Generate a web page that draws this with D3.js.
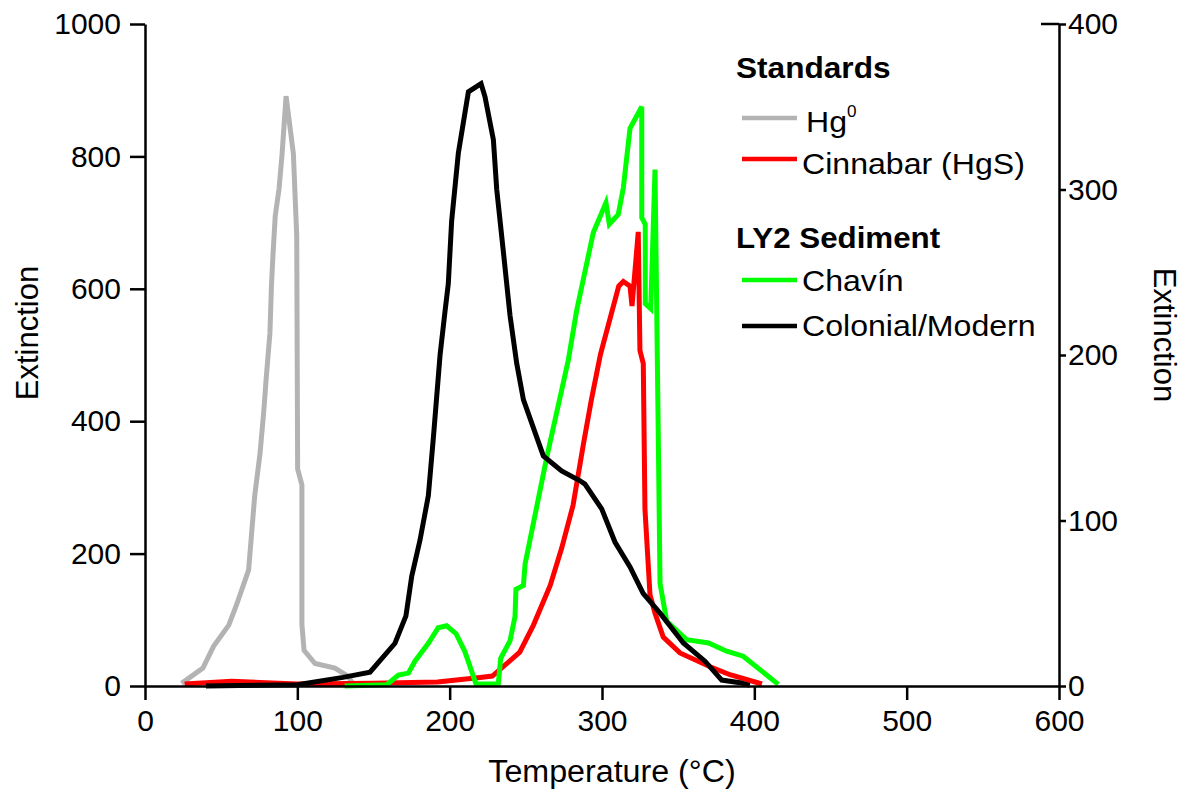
<!DOCTYPE html>
<html>
<head>
<meta charset="utf-8">
<script src="https://cdn.jsdelivr.net/npm/d3@7"></script>
<style>
  body { margin: 0; background: #fff; }
  svg text { font-family: "Liberation Sans", Arial, sans-serif; }
</style>
</head>
<body>
<div id="chart"></div>
<script>
// Standards (left axis)
const hgTemp = [24, 38, 45, 55, 60, 68, 72, 75.5, 78, 79.5, 82, 83, 84, 85.5, 88, 90, 92.6, 97.4, 99.6, 100.2, 103, 103, 104.4, 111.6, 124.7, 132.4, 136]
const hgExt = [4, 27, 60, 92, 122, 175, 287, 351, 416, 463, 533, 604, 651, 710, 751, 804, 891, 804, 680, 328, 304, 93, 54, 34, 27, 16, 6]

const cinTemp = [26, 57, 100, 150, 192, 220, 228, 246, 255, 266, 273.5, 281, 288, 293, 299, 311, 314, 318.4, 319.7, 323.8, 324.9, 327.1, 328.2, 331.5, 334.8, 340.2, 351.2, 371, 384, 405]
const cinExt = [3, 7, 3, 4, 6, 13, 15, 51, 92, 152, 208, 273, 368, 432, 501, 604, 611, 604, 574, 686, 507, 487, 267, 138, 110, 74, 50, 29, 17, 3]

// LY2 sediment (right axis)
const chavinTemp = [131, 158.7, 166.3, 172.9, 177.2, 186, 192.5, 198, 204.2, 210, 217.3, 231.9, 233.5, 239.6, 242.9, 243.5, 248.4, 249.5, 263.7, 277.9, 283.4, 294.3, 302.6, 304.8, 310.7, 314, 318.4, 326.1, 326.1, 328.4, 328.4, 332, 334.8, 337, 338.1, 342.5, 355.5, 370, 381.8, 392.7, 415.7]
const chavinExt = [0, 0.8, 6.6, 7.8, 15, 25.8, 35.2, 36.4, 31.6, 20.8, 1.2, 1.2, 16.8, 27.2, 42, 58.4, 60.8, 73.6, 138, 197, 227, 274, 292, 279, 285, 301, 337, 350, 283, 279, 231, 228, 312, 147, 62, 39, 28, 26, 21, 18, 1]

const colTemp = [40, 100, 130, 147.7, 164.1, 171.3, 175.1, 180.5, 186, 189.3, 193.7, 196.9, 199.1, 201.3, 205.7, 212.3, 220.6, 223.2, 228.7, 230.9, 235.3, 239.6, 244, 248.4, 261.5, 273.5, 285.6, 288.8, 299.8, 308.5, 318.4, 327, 338.1, 353.4, 367.6, 378.6, 390.6, 397]
const colExt = [0, 0.8, 5.2, 8.4, 25.8, 42.4, 66.4, 88, 115, 150, 200, 226, 243, 281, 322, 359, 364, 356, 330, 300, 262, 224, 195, 173, 139, 130, 124, 122, 107, 87, 72, 56, 44, 26, 15, 3.6, 2, 0.4]

const xTicks = [0, 100, 200, 300, 400, 500, 600]
const yLeftTicks = [0, 200, 400, 600, 800, 1000]
const yRightTicks = [0, 100, 200, 300, 400]

const width = 1189
const height = 792
const margin = { top: 24, right: 130, bottom: 106, left: 145 }

const xScale = d3.scaleLinear().domain([0, 600]).range([margin.left, width - margin.right])
const yLeft = d3.scaleLinear().domain([0, 1000]).range([height - margin.bottom, margin.top])
const yRight = d3.scaleLinear().domain([0, 400]).range([height - margin.bottom, margin.top])

const svg = d3.select('#chart')
  .append('svg')
  .attr('width', width)
  .attr('height', height)

const series = [
  { name: 'Hg', temp: hgTemp, ext: hgExt, y: yLeft, color: '#b3b3b3' },
  { name: 'Cinnabar (HgS)', temp: cinTemp, ext: cinExt, y: yLeft, color: '#ff0000' },
  { name: 'Chavín', temp: chavinTemp, ext: chavinExt, y: yRight, color: '#00ff00' },
  { name: 'Colonial/Modern', temp: colTemp, ext: colExt, y: yRight, color: '#000000' },
]

series.forEach(s => {
  const line = d3.line()
    .x(i => xScale(s.temp[i]))
    .y(i => s.y(s.ext[i]))
  svg.append('path')
    .attr('d', line(d3.range(s.temp.length)))
    .attr('fill', 'none')
    .attr('stroke', s.color)
    .attr('stroke-width', 5)
    .attr('stroke-linejoin', 'miter')
})

// axes
const fmt = d3.format('d')
const styleAxis = g => {
  g.selectAll('.domain').attr('stroke-width', 2.5)
  g.selectAll('.tick line').attr('stroke-width', 2.5)
  g.selectAll('.tick text').attr('font-size', '30px').attr('fill', '#000')
    .attr('font-family', '"Liberation Sans", Arial, sans-serif')
}

svg.append('g')
  .attr('transform', `translate(0 ${height - margin.bottom})`)
  .call(d3.axisBottom(xScale).tickValues(xTicks).tickFormat(fmt).tickSize(14).tickSizeOuter(0).tickPadding(10))
  .call(styleAxis)

svg.append('g')
  .attr('transform', `translate(${margin.left} 0)`)
  .call(d3.axisLeft(yLeft).tickValues(yLeftTicks).tickFormat(fmt).tickSize(15).tickSizeOuter(0).tickPadding(9))
  .call(styleAxis)

svg.append('g')
  .attr('transform', `translate(${width - margin.right} 0)`)
  .call(d3.axisRight(yRight).tickValues(yRightTicks).tickFormat(fmt).tickSize(7).tickSizeOuter(0).tickPadding(2))
  .call(styleAxis)

// short inner tick at top of right axis
svg.append('line')
  .attr('x1', xScale(600) - 18).attr('x2', xScale(600))
  .attr('y1', yRight(400)).attr('y2', yRight(400))
  .attr('stroke', '#000').attr('stroke-width', 2.5)

// axis titles
svg.append('text')
  .attr('transform', `translate(38 333) rotate(-90)`)
  .attr('text-anchor', 'middle')
  .attr('font-size', '31px')
  .text('Extinction')

svg.append('text')
  .attr('transform', `translate(1154 335) rotate(90)`)
  .attr('text-anchor', 'middle')
  .attr('font-size', '31px')
  .text('Extinction')

svg.append('text')
  .attr('transform', 'translate(612 782) scale(1.04 1)')
  .attr('text-anchor', 'middle')
  .attr('font-size', '31px')
  .text('Temperature (°C)')

// legend (reference type is a touch wider than Liberation Sans)
const legend = svg.append('g')

legend.append('text').attr('transform', 'translate(736 78) scale(1.09 1)')
  .attr('font-size', '29px').attr('font-weight', 'bold').text('Standards')
legend.append('text').attr('transform', 'translate(736 248) scale(1.08 1)')
  .attr('font-size', '29px').attr('font-weight', 'bold').text('LY2 Sediment')

const legendRows = [
  { s: series[0], ly: 118, ty: 132, tx: 806 },
  { s: series[1], ly: 159, ty: 174, tx: 802 },
  { s: series[2], ly: 280, ty: 291, tx: 802 },
  { s: series[3], ly: 326, ty: 336, tx: 802 },
]

legendRows.forEach(r => {
  legend.append('line')
    .attr('x1', 742).attr('x2', 797)
    .attr('y1', r.ly).attr('y2', r.ly)
    .attr('stroke', r.s.color).attr('stroke-width', 4.5)
  const t = legend.append('text')
    .attr('transform', `translate(${r.tx} ${r.ty}) scale(1.07 1)`)
    .attr('font-size', '30px')
    .text(r.s.name)
  if (r.s.name === 'Hg') {
    t.append('tspan').attr('dy', -15).attr('font-size', '16px').text('0')
  }
})
</script>
</body>
</html>
